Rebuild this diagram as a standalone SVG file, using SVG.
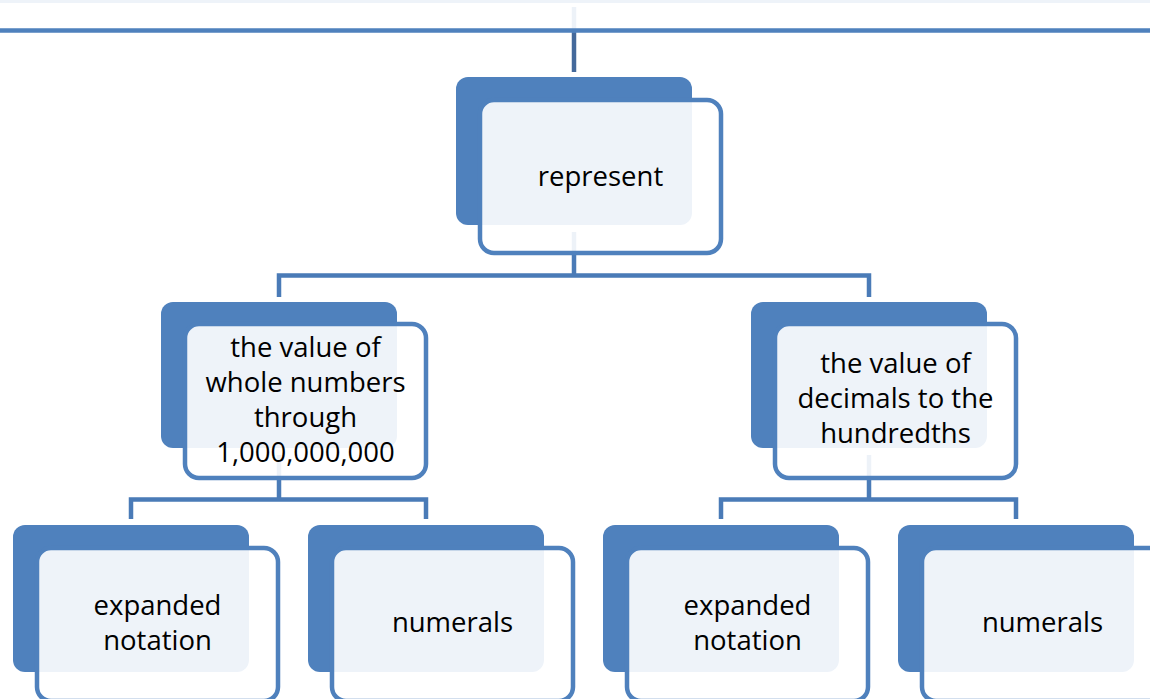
<svg xmlns="http://www.w3.org/2000/svg" width="1150" height="699" viewBox="0 0 1150 699">
  <defs>
    <style>
      .back { fill: #4F81BD; }
      .front { fill: #FFFFFF; fill-opacity: 0.9; stroke: #4F81BD; stroke-width: 4.5; }
      .link { fill: none; stroke: #4A7BB7; stroke-width: 4.5; stroke-linejoin: miter; }
      .label { font-family: "Open Sans", "Noto Sans", "Liberation Sans", sans-serif; font-size: 27.5px; fill: #000000; text-anchor: middle; }
    </style>
  </defs>
  <rect x="0" y="0" width="1150" height="699" fill="#FFFFFF"/>

  <!-- connectors, drawn beneath the cards -->
  <g id="connectors">
    <path class="link" d="M574 7 V33"/>
    <path d="M574 33 V72" fill="none" stroke="#44699B" stroke-width="4.5"/>
    <path class="link" d="M574 232 V275.5 M279 297 V275.5 H869 V297"/>
    <path class="link" d="M279 455 V499.5 M131 519 V499.5 H426 V519"/>
    <path class="link" d="M869 455 V499.5 M721 519 V499.5 H1016 V519"/>
  </g>

  <!-- parent card, mostly above the top edge -->
  <g id="node-parent">
    <rect class="back" x="-60" y="-200" width="1270" height="203" rx="12"/>
    <rect class="front" x="-40" y="-150" width="1260" height="180.5" rx="14" stroke-width="5"/>
  </g>

  <g id="node-represent">
    <rect class="back" x="456" y="77" width="236" height="148" rx="12"/>
    <rect class="front" x="480" y="100" width="241" height="153" rx="14"/>
    <text class="label" x="600.5" y="186">represent</text>
  </g>

  <g id="node-whole">
    <rect class="back" x="161" y="302" width="236" height="146" rx="12"/>
    <rect class="front" x="185" y="324" width="241" height="154" rx="14"/>
    <text class="label" x="305.5" y="357">the value of</text>
    <text class="label" x="305.5" y="392">whole numbers</text>
    <text class="label" x="305.5" y="427">through</text>
    <text class="label" x="305.5" y="462">1,000,000,000</text>
  </g>

  <g id="node-decimals">
    <rect class="back" x="751" y="302" width="236" height="146" rx="12"/>
    <rect class="front" x="775" y="324" width="241" height="154" rx="14"/>
    <text class="label" x="895.5" y="373">the value of</text>
    <text class="label" x="895.5" y="408">decimals to the</text>
    <text class="label" x="895.5" y="443">hundredths</text>
  </g>

  <g id="node-expanded-1">
    <rect class="back" x="13" y="525" width="236" height="147" rx="12"/>
    <rect class="front" x="37" y="548" width="241" height="153" rx="14"/>
    <text class="label" x="157.5" y="615">expanded</text>
    <text class="label" x="157.5" y="650">notation</text>
  </g>

  <g id="node-numerals-1">
    <rect class="back" x="308" y="525" width="236" height="147" rx="12"/>
    <rect class="front" x="332" y="548" width="241" height="153" rx="14"/>
    <text class="label" x="452.5" y="632">numerals</text>
  </g>

  <g id="node-expanded-2">
    <rect class="back" x="603" y="525" width="236" height="147" rx="12"/>
    <rect class="front" x="627" y="548" width="241" height="153" rx="14"/>
    <text class="label" x="747.5" y="615">expanded</text>
    <text class="label" x="747.5" y="650">notation</text>
  </g>

  <g id="node-numerals-2">
    <rect class="back" x="898" y="525" width="236" height="147" rx="12"/>
    <rect class="front" x="922" y="548" width="241" height="153" rx="14"/>
    <text class="label" x="1042.5" y="632">numerals</text>
  </g>
</svg>
